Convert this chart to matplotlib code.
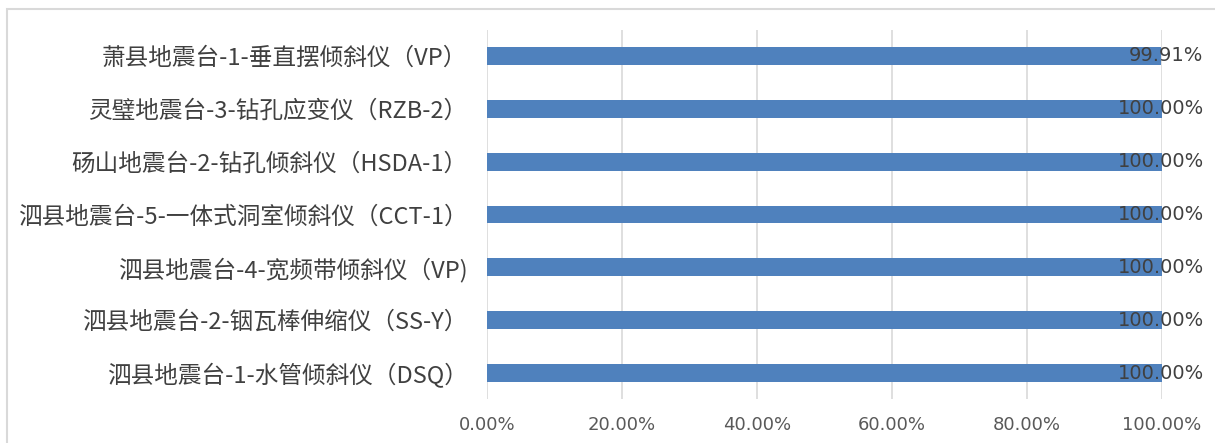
import matplotlib.pyplot as plt
from matplotlib.patches import Rectangle

plt.rcParams['font.family'] = ['Noto Sans CJK SC', 'DejaVu Sans']

# 从下到上的顺序
labels = [
    "泗县地震台-1-水管倾斜仪（DSQ）",
    "泗县地震台-2-铟瓦棒伸缩仪（SS-Y）",
    "泗县地震台-4-宽频带倾斜仪（VP)",
    "泗县地震台-5-一体式洞室倾斜仪（CCT-1）",
    "砀山地震台-2-钻孔倾斜仪（HSDA-1）",
    "灵璧地震台-3-钻孔应变仪（RZB-2）",
    "萧县地震台-1-垂直摆倾斜仪（VP）",
]
values = [100.00, 100.00, 100.00, 100.00, 100.00, 100.00, 99.91]
xticks = [0, 20, 40, 60, 80, 100]

fig = plt.figure(figsize=(12.15, 4.43), dpi=100)
ax = fig.add_axes([0.4008, 0.0982, 0.5556, 0.8352])

# 外框（只露出左边和上边）
fig.patches.append(Rectangle((7 / 1215, -0.1), 1.2, 1 - 9 / 443 + 0.1,
                             transform=fig.transFigure, fill=False,
                             edgecolor='#d9d9d9', linewidth=1.5))

y = range(len(labels))
ax.barh(y, values, height=0.34, color='#4f81bd', zorder=2)

for yi, v in zip(y, values):
    ax.annotate(f"{v:.2f}%", xy=(v, yi), xytext=(42, 0), textcoords='offset pixels',
                ha='right', va='center', fontsize=14, color='#404040',
                family='DejaVu Sans', zorder=3)

ax.set_xlim(0, 100)
ax.set_ylim(-0.5, len(labels) - 0.5)
ax.set_xticks(xticks)
ax.set_xticklabels([f"{t:.2f}%" for t in xticks], fontsize=13, color='#595959',
                   family='DejaVu Sans')
ax.set_yticks(list(y))
ax.set_yticklabels(labels, fontsize=17, color='#404040')
ax.tick_params(axis='both', length=0)
ax.tick_params(axis='y', pad=14)
ax.tick_params(axis='x', pad=12)
ax.grid(axis='x', color='#d9d9d9', linewidth=1.2, zorder=0)
for s in ax.spines.values():
    s.set_visible(False)

fig.savefig("out.png", dpi=100)
